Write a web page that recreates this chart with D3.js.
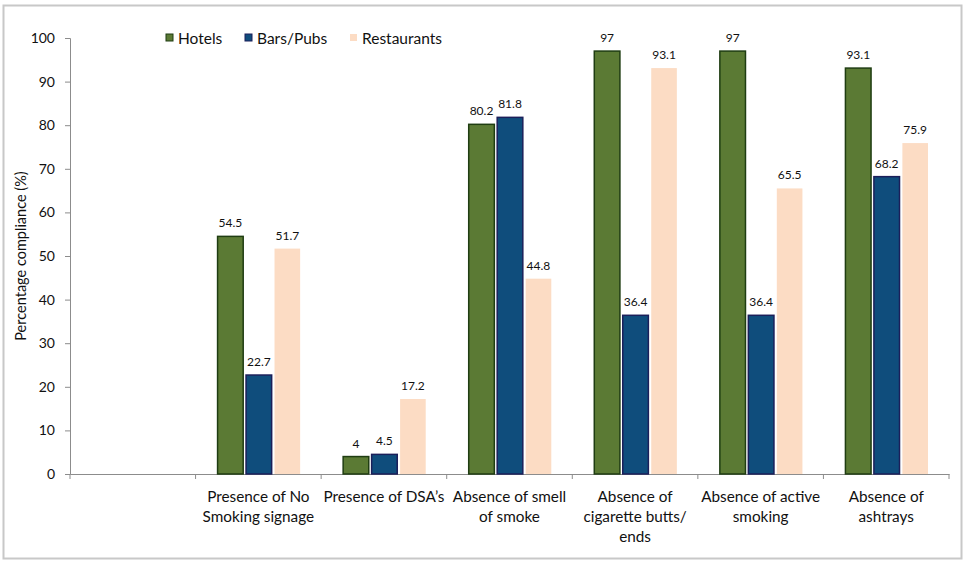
<!DOCTYPE html>
<html>
<head>
<meta charset="utf-8">
<script src="https://cdn.jsdelivr.net/npm/d3@7"></script>
<style>
  body { margin: 0; background: #fff; }
  text { font-family: Lato, "Open Sans", sans-serif; }
</style>
</head>
<body>
<svg width="966" height="561"></svg>
<script>
// categories (first slot is empty in the original)
var categories = ["", "Presence of No Smoking signage", "Presence of DSA\u2019s",
    "Absence of smell of smoke", "Absence of cigarette butts/ ends",
    "Absence of active smoking", "Absence of ashtrays"];
var categoryLines = [[], ["Presence of No", "Smoking signage"], ["Presence of DSA\u2019s"],
    ["Absence of smell", "of smoke"], ["Absence of", "cigarette butts/", "ends"],
    ["Absence of active", "smoking"], ["Absence of", "ashtrays"]];
var seriesNames = ["Hotels", "Bars/Pubs", "Restaurants"];
var hotels = [null, 54.5, 4, 80.2, 97, 97, 93.1];
var bars = [null, 22.7, 4.5, 81.8, 36.4, 36.4, 68.2];
var restaurants = [null, 51.7, 17.2, 44.8, 93.1, 65.5, 75.9];
var yTicks = [0, 10, 20, 30, 40, 50, 60, 70, 80, 90, 100];

var fills = ["#5b7a34", "#0f4d7c", "#fcdcc4"];
var strokes = ["#1f3d12", "#1b1f5a", "none"];

var svg = d3.select("svg");

// outer frame
svg.append("rect")
    .attr("x", 3.5).attr("y", 5.5)
    .attr("width", 958).attr("height", 553)
    .attr("fill", "none").attr("stroke", "#c8c8c8").attr("stroke-width", 2);

var x0 = 70, x1 = 949, yTop = 38, yBot = 474;

var x = d3.scaleBand().domain(categories).range([x0, x1]);
var y = d3.scaleLinear().domain([0, 100]).range([yBot, yTop]);
var xs = d3.scaleBand().domain(seriesNames).range([22, x.bandwidth() - 21]).paddingInner(0.1);

// y axis
var yAxis = svg.append("g")
    .attr("transform", "translate(" + x0 + ",0)")
    .call(d3.axisLeft(y).tickValues(yTicks).tickSize(5).tickPadding(10));
yAxis.select(".domain").attr("stroke", "#8c8c8c");
yAxis.selectAll(".tick line").attr("stroke", "#8c8c8c");
yAxis.selectAll("text").attr("font-size", 14).attr("fill", "#111");

// x axis
var xAxis = svg.append("g")
    .attr("transform", "translate(0," + yBot + ")")
    .call(d3.axisBottom(x).tickValues([]).tickSizeOuter(0));
xAxis.select(".domain").attr("stroke", "#8c8c8c");
xAxis.selectAll(".xt")
    .data(categories.concat(["end"]))
    .enter().append("line")
    .attr("x1", function (d, i) { return i < categories.length ? x(d) : x1; })
    .attr("x2", function (d, i) { return i < categories.length ? x(d) : x1; })
    .attr("y1", 0).attr("y2", 5)
    .attr("stroke", "#8c8c8c");

// category labels
var lab = svg.append("g").selectAll("text")
    .data(categories)
    .enter().append("text")
    .attr("text-anchor", "middle")
    .attr("font-size", 15.3)
    .attr("fill", "#111")
    .attr("x", function (d) { return x(d) + x.bandwidth() / 2; })
    .attr("y", 502);
lab.each(function (d, i) {
    d3.select(this).selectAll("tspan")
        .data(categoryLines[i])
        .enter().append("tspan")
        .attr("x", x(d) + x.bandwidth() / 2)
        .attr("dy", function (t, j) { return j === 0 ? 0 : 20; })
        .text(function (t) { return t; });
});

// bars
var series = [hotels, bars, restaurants];
series.forEach(function (vals, s) {
    var g = svg.append("g");
    var pts = categories.map(function (c, i) { return { c: c, v: vals[i] }; })
        .filter(function (d) { return d.v !== null; });
    g.selectAll("rect")
        .data(pts)
        .enter().append("rect")
        .attr("x", function (d) { return x(d.c) + xs(seriesNames[s]); })
        .attr("y", function (d) { return y(d.v); })
        .attr("width", xs.bandwidth())
        .attr("height", function (d) { return yBot - y(d.v); })
        .attr("fill", fills[s])
        .attr("stroke", strokes[s])
        .attr("stroke-width", 1.5);
    g.selectAll("text")
        .data(pts)
        .enter().append("text")
        .attr("x", function (d) { return x(d.c) + xs(seriesNames[s]) + xs.bandwidth() / 2; })
        .attr("y", function (d) { return y(d.v) - 9; })
        .attr("text-anchor", "middle")
        .attr("font-size", 12)
        .attr("fill", "#111")
        .text(function (d) { return d.v; });
});

// y title
svg.append("text")
    .attr("transform", "translate(26," + ((yTop + yBot) / 2) + ") rotate(-90)")
    .attr("text-anchor", "middle")
    .attr("font-size", 14.5)
    .attr("fill", "#111")
    .text("Percentage compliance (%)");

// legend
var legX = [166, 245, 350];
var leg = svg.append("g").selectAll("g")
    .data(seriesNames)
    .enter().append("g")
    .attr("transform", function (d, i) { return "translate(" + legX[i] + ",38)"; });
leg.append("rect")
    .attr("x", 0).attr("y", -4)
    .attr("width", 7).attr("height", 7)
    .attr("fill", function (d, i) { return fills[i]; })
    .attr("stroke", function (d, i) { return i === 0 ? "#1f3d12" : i === 1 ? "#1b1f5a" : "none"; });
leg.append("text")
    .attr("x", 12).attr("y", 5.5)
    .attr("font-size", 15.5)
    .attr("fill", "#111")
    .text(function (d) { return d; });
</script>
</body>
</html>
